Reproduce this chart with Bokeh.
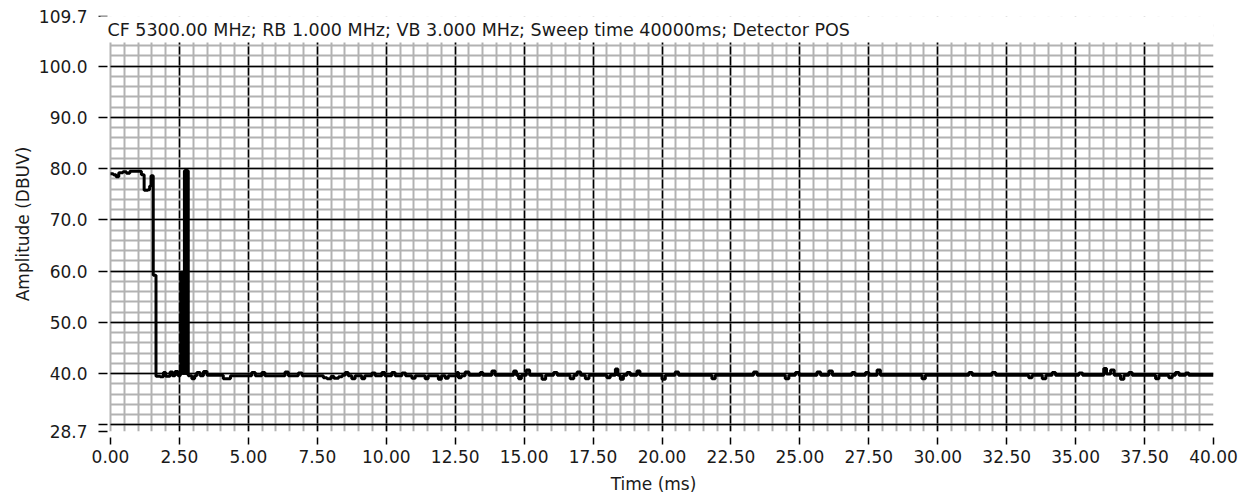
from bokeh.plotting import figure
from bokeh.models import FixedTicker, Label, Range1d, BoxAnnotation
from bokeh.embed import file_html
from bokeh.resources import INLINE

# ---- data ----
t_ms = [0.00, 0.10, 0.20, 0.30, 0.45, 0.58, 0.70, 1.05, 1.12, 1.22, 1.36, 1.42, 1.47, 1.54,
        1.55, 1.64, 1.65, 1.80, 1.92, 2.00, 2.16, 2.25, 2.34, 2.45,
        2.53, 2.55, 2.57, 2.59, 2.61, 2.62, 2.64, 2.68, 2.70, 2.72, 2.74, 2.76, 2.78, 2.80, 2.82,
        2.95, 3.05, 3.13, 3.25, 3.37, 3.50, 4.00, 4.09, 4.27, 4.35, 5.00, 5.12, 5.25, 5.49, 5.60,
        6.20, 6.33, 6.45, 6.81, 6.95, 7.60, 7.72, 7.85, 8.00, 8.10, 8.27, 8.40, 8.51, 8.62, 8.75,
        8.87, 9.11, 9.22, 9.48, 9.60, 9.84, 9.95, 10.20, 10.32, 10.57, 10.70, 10.93, 11.05,
        11.41, 11.52, 11.89, 12.00, 12.14, 12.25, 12.56, 12.62, 12.72, 12.86, 13.00,
        13.41, 13.50, 13.83, 13.95, 14.55, 14.62, 14.72, 14.80, 14.90, 15.08, 15.20, 15.65,
        15.78, 16.07, 16.20, 16.67, 16.80, 16.92, 17.05, 17.22, 17.35, 18.00, 18.12, 18.31,
        18.40, 18.49, 18.60, 18.73, 18.85, 19.09, 19.20, 20.00, 20.12, 20.48, 20.60, 21.81,
        21.93, 23.32, 23.45, 24.47, 24.60, 24.84, 24.97, 25.62, 25.75, 26.05, 26.18, 26.89,
        27.00, 27.38, 27.50, 27.80, 27.92, 29.43, 29.55, 31.13, 31.25, 31.97, 32.10, 33.30,
        33.42, 33.79, 33.92, 34.15, 34.27, 35.12, 35.25, 36.02, 36.12, 36.27, 36.40, 36.63,
        36.75, 36.93, 37.05, 37.90, 38.02, 38.38, 38.50, 38.62, 38.75, 38.99, 39.10, 40.00]
amp_dbuv = [79.0, 78.8, 78.4, 79.2, 79.4, 79.1, 79.5, 79.5, 78.8, 75.8, 75.9, 76.6, 78.6, 78.6,
            59.2, 59.2, 39.5, 39.4, 40.2, 39.5, 40.3, 39.6, 40.4, 39.6,
            40.0, 59.8, 40.0, 59.8, 40.0, 59.8, 40.0, 79.6, 40.0, 79.8, 40.0, 79.7, 40.0, 79.6, 39.6,
            39.0, 39.6, 40.2, 39.6, 40.4, 39.7, 39.7, 39.0, 39.0, 39.6, 39.6, 40.2, 39.6, 40.2, 39.6,
            39.6, 40.3, 39.6, 40.1, 39.6, 39.6, 39.2, 39.0, 39.5, 39.1, 39.4, 39.7, 40.2, 39.6, 39.0,
            39.6, 39.0, 39.6, 40.1, 39.6, 40.2, 39.6, 40.2, 39.6, 40.1, 39.6, 39.1, 39.6,
            39.0, 39.6, 38.9, 39.6, 39.1, 39.6, 40.2, 39.2, 39.6, 40.3, 39.7,
            40.2, 39.7, 40.5, 39.7, 39.7, 40.5, 39.7, 39.0, 39.7, 40.7, 39.7, 38.9,
            39.7, 40.2, 39.7, 39.0, 39.7, 40.3, 39.7, 39.0, 39.7, 39.2, 39.7, 40.9,
            39.7, 38.9, 39.7, 40.2, 39.7, 40.5, 39.7, 38.9, 39.7, 40.3, 39.7, 39.0,
            39.7, 40.3, 39.7, 39.0, 39.7, 40.2, 39.7, 40.3, 39.7, 40.5, 39.7, 40.2,
            39.7, 40.2, 39.7, 40.7, 39.7, 39.0, 39.7, 40.2, 39.7, 40.2, 39.7, 39.2,
            39.7, 39.0, 39.7, 40.2, 39.7, 40.1, 39.7, 41.0, 39.9, 40.7, 39.7, 38.9,
            39.7, 40.2, 39.7, 39.0, 39.7, 39.2, 39.7, 40.2, 39.7, 40.1, 39.7, 39.7]

x_ticks = [0.0, 2.5, 5.0, 7.5, 10.0, 12.5, 15.0, 17.5, 20.0, 22.5, 25.0, 27.5, 30.0,
           32.5, 35.0, 37.5, 40.0]
x_tick_labels = ["0.00", "2.50", "5.00", "7.50", "10.00", "12.50", "15.00", "17.50", "20.00",
                 "22.50", "25.00", "27.50", "30.00", "32.50", "35.00", "37.50", "40.00"]
y_ticks = [28.7, 30.0, 40.0, 50.0, 60.0, 70.0, 80.0, 90.0, 100.0, 109.7]
y_tick_labels = ["28.7", "", "40.0", "50.0", "60.0", "70.0", "80.0", "90.0", "100.0", "109.7"]
caption_text = "CF 5300.00 MHz; RB 1.000 MHz; VB 3.000 MHz; Sweep time 40000ms; Detector POS"
x_title = "Time (ms)"
y_title = "Amplitude (DBUV)"

FONT = "DejaVu Sans"
TXT = "#1a1a1a"

# plot frame starts 17px left of t=0 so the caption box can sit there
p = figure(width=1240, height=498, output_backend="svg", toolbar_location=None,
           x_range=Range1d(-0.6165, 40), y_range=Range1d(28.7, 109.7),
           min_border_left=93, min_border_right=27, min_border_top=16, min_border_bottom=67)
p.outline_line_color = None
p.background_fill_color = "white"
p.border_fill_color = "white"

# grids
p.xgrid.ticker = FixedTicker(ticks=x_ticks[1:-1], minor_ticks=[i * 0.5 for i in range(80)])
p.ygrid.ticker = FixedTicker(ticks=[30, 40, 50, 60, 70, 80, 90, 100],
                             minor_ticks=[30 + 2 * i for i in range(40)])
p.ygrid.cross_bounds = (0, 40)
for g in (p.xgrid, p.ygrid):
    g.grid_line_color = "black"
    g.grid_line_width = 1.5
    g.minor_grid_line_color = "#b2b2b2"
    g.minor_grid_line_width = 2

# trace
p.step(t_ms, amp_dbuv, mode="after", line_color="black", line_width=3)

# axes
xa = p.xaxis[0]
xa.ticker = FixedTicker(ticks=x_ticks, minor_ticks=[])
xa.major_label_overrides = dict(zip(x_ticks, x_tick_labels))
xa.axis_line_color = None
xa.major_tick_line_color = "black"
xa.major_tick_line_width = 1.5
xa.major_tick_in = -6
xa.major_tick_out = 13
xa.minor_tick_line_color = None
xa.minor_tick_in = 0
xa.minor_tick_out = 0
xa.major_label_standoff = 5
xa.axis_label = x_title
xa.axis_label_standoff = 8

ya = p.yaxis[0]
ya.ticker = FixedTicker(ticks=y_ticks, minor_ticks=[])
ya.major_label_overrides = dict(zip(y_ticks, y_tick_labels))
ya.axis_line_color = None
ya.major_tick_line_color = "black"
ya.major_tick_line_width = 1.5
ya.major_tick_in = 14
ya.major_tick_out = -5
ya.minor_tick_line_color = None
ya.minor_tick_in = 0
ya.minor_tick_out = 0
ya.major_label_standoff = 6
ya.axis_label = y_title
ya.axis_label_standoff = 3

for a in (xa, ya):
    a.major_label_text_font = FONT
    a.major_label_text_font_size = "17px"
    a.major_label_text_color = TXT
    a.axis_label_text_font = FONT
    a.axis_label_text_font_size = "17px"
    a.axis_label_text_font_style = "normal"
    a.axis_label_text_color = TXT

# white caption strip over the top of the plot
p.add_layout(BoxAnnotation(bottom=106.1, fill_color="white", fill_alpha=1.0,
                           line_color=None, level="annotation"))
cap = Label(x=-0.3626, y=109.12, x_units="data", y_units="data", text=caption_text,
            text_font=FONT, text_font_size="17.5px", text_color=TXT,
            text_baseline="middle", text_align="left",
            background_fill_color="white", background_fill_alpha=1.0,
            padding=dict(left=7, right=600, top=24, bottom=2))
p.add_layout(cap)

open("out.html", "w").write(file_html(p, INLINE))
